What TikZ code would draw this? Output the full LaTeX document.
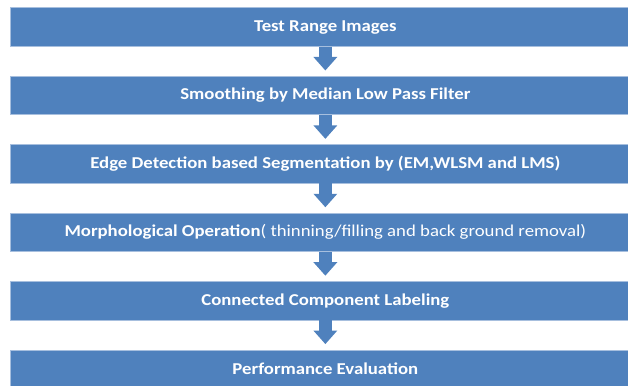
\documentclass[tikz,border=0pt]{standalone}
\usepackage{fontspec}
\setmainfont{Carlito}[FakeStretch=1.13]
\usetikzlibrary{arrows.meta}
\definecolor{barblue}{HTML}{4F81BD}
\definecolor{baredge}{HTML}{A7BFDE}
\tikzset{
  bar/.style={rectangle, fill=barblue, draw=baredge, line width=0.7pt,
    minimum width=630pt, minimum height=38.4pt, inner sep=0pt,
    text=white, font=\fontsize{16.6}{18}\selectfont\bfseries, anchor=north west},
  flowarrow/.style={draw=barblue, line width=12.5pt,
    -{Triangle[width=23pt,length=13.5pt]}, shorten >=5.4pt},
}
\begin{document}
\begin{tikzpicture}[x=1pt,y=-1pt]
\useasboundingbox (0,0) rectangle (628,385);
\clip (0,0) rectangle (628,385);
\node[bar] (b1) at (10,7.5)   {Test Range Images};
\node[bar] (b2) at (10,75.9)  {Smoothing by Median Low Pass Filter};
\node[bar] (b3) at (10,144.3) {Edge Detection based Segmentation by (EM,WLSM and LMS)};
\node[bar] (b4) at (10,212.7) {Morphological Operation\mdseries( thinning/filling and back ground removal)};
\node[bar] (b5) at (10,281.1) {Connected Component Labeling};
\node[bar] (b6) at (10,349.5) {Performance Evaluation};
\draw[flowarrow] (b1) -- (b2);
\draw[flowarrow] (b2) -- (b3);
\draw[flowarrow] (b3) -- (b4);
\draw[flowarrow] (b4) -- (b5);
\draw[flowarrow] (b5) -- (b6);
\end{tikzpicture}
\end{document}
